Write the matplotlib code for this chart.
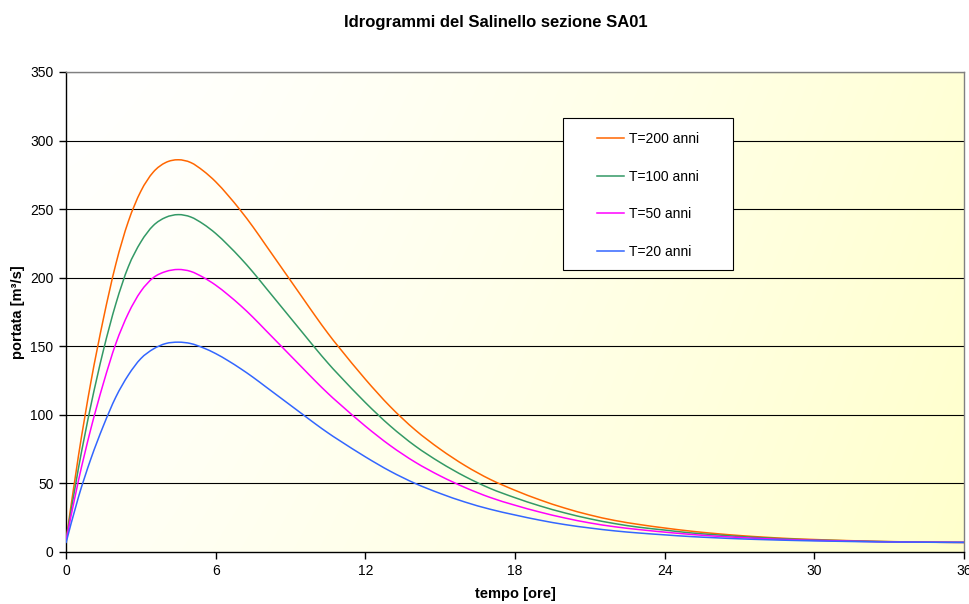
import numpy as np
import matplotlib
matplotlib.use('Agg')
import matplotlib.pyplot as plt
from matplotlib.path import Path
from matplotlib.patches import PathPatch, Rectangle
from matplotlib.lines import Line2D

plt.rcParams['font.family'] = ['Liberation Sans', 'DejaVu Sans']

# tempo [ore]: mezz'ora fino a 11 h, poi ogni ora
t = [0, 0.5, 1, 1.5, 2, 2.5, 3, 3.5, 4, 4.5, 5, 5.5, 6, 6.5, 7, 7.5, 8, 8.5, 9, 9.5, 10, 10.5, 11,
     12, 13, 14, 15, 16, 17, 18, 19, 20, 21, 22, 23, 24, 25, 26, 27, 28, 29, 30,
     31, 32, 33, 34, 35, 36]

q200 = [8, 70, 124, 170, 210, 241, 263, 277, 284, 286, 284, 278, 270, 260, 249, 237, 224, 211, 198, 185, 172, 159.5, 148,
        126, 106, 89, 75, 63, 53, 45, 38, 32, 27, 23, 20, 17.5, 15.3, 13.5, 12, 10.8, 9.8, 9.1,
        8.5, 8, 7.6, 7.3, 7.1, 7]
q100 = [8, 61, 107, 147, 181, 208, 226, 238, 244, 246, 244.3, 239.2, 232.3, 223.7, 214.3, 204, 192.9, 181.8, 170.7,
        159.6, 148.5, 137.8, 127.9,
        109, 91.9, 77.3, 65.3, 55, 46.4, 39.6, 33.6, 28.5, 24.2, 20.7, 18, 16, 14, 12.6, 11.3, 10.3, 9.4, 8.8,
        8.3, 7.9, 7.5, 7.3, 7.1, 7]
q50 = [8, 52, 90, 123, 152, 174, 190, 200, 204.5, 206, 204.6, 200.3, 194.6, 187.5, 179.7, 171.1, 161.8, 152.5, 143.2,
       133.9, 124.6, 115.7, 107.5,
       91.8, 77.6, 65.5, 55.5, 47, 39.8, 34.1, 29.1, 24.8, 21.2, 18.4, 16.3, 14.5, 12.9, 11.6, 10.6, 9.7, 9, 8.5,
       8.1, 7.7, 7.4, 7.2, 7.1, 7]
q20 = [6.5, 40, 68, 92, 113, 129, 141, 148, 152, 153, 152, 148.9, 144.7, 139.5, 133.7, 127.4, 120.6, 113.8, 107,
       100.2, 93.4, 86.9, 80.9,
       69.4, 58.9, 50, 42.7, 36.4, 31.2, 27, 23.2, 20, 17.5, 15.4, 13.8, 12.5, 11.3, 10.4, 9.6, 9, 8.5, 8.1,
       7.8, 7.5, 7.3, 7.2, 7.05, 7]

serie = [q200, q100, q50, q20]
etichette = ['T=200 anni', 'T=100 anni', 'T=50 anni', 'T=20 anni']
colori = ['#FF6600', '#339966', '#FF00FF', '#3366FF']


def linea_smussata(x, y):
    # linea "smussata" come in Excel: Bezier cubiche che passano per i punti
    p = np.column_stack([x, y]).astype(float)
    verts = [p[0]]
    codes = [Path.MOVETO]
    n = len(p)
    for i in range(n - 1):
        p0 = p[i - 1] if i > 0 else p[i]
        p3 = p[i + 2] if i + 2 < n else p[i + 1]
        c1 = p[i] + (p[i + 1] - p0) / 6.0
        c2 = p[i + 1] - (p3 - p[i]) / 6.0
        verts += [c1, c2, p[i + 1]]
        codes += [Path.CURVE4] * 3
    return Path(verts, codes)


fig = plt.figure(figsize=(9.7, 6.04), dpi=100)
ax = fig.add_axes([0.068, 0.0861, 0.9258, 0.7947])

# sfondo sfumato bianco -> giallo chiaro
gx, gy = np.meshgrid(np.linspace(0, 1, 300), np.linspace(1, 0, 100))
w = np.clip(0.8 * gx ** 1.3 + 0.2 * (1 - gy), 0, 1)
c0 = np.array([1.0, 1.0, 1.0])
c1 = np.array([1.0, 1.0, 0.80])
img = c0[None, None, :] * (1 - w[..., None]) + c1[None, None, :] * w[..., None]
ax.imshow(img, extent=[0, 36, 0, 350], aspect='auto', zorder=0, interpolation='bilinear')

for yv in range(50, 351, 50):
    ax.axhline(yv, color='black', lw=0.8, zorder=1)

for q, col in zip(serie, colori):
    ax.add_patch(PathPatch(linea_smussata(t, q), facecolor='none', edgecolor=col, lw=1.1, zorder=3))

ax.set_xlim(0, 36)
ax.set_ylim(0, 350)
ax.set_xticks(range(0, 37, 6))
ax.set_yticks(range(0, 351, 50))
ax.tick_params(direction='out', length=5, width=1, labelsize=10, pad=4)

for s in ['top', 'right']:
    ax.spines[s].set_color('#808080')
    ax.spines[s].set_linewidth(1)
for s in ['left', 'bottom']:
    ax.spines[s].set_color('black')
    ax.spines[s].set_linewidth(1)

ax.set_xlabel('tempo [ore]', fontsize=10.5, fontweight='bold', labelpad=6)
ax.set_ylabel('portata [m³/s]', fontsize=10.5, fontweight='bold', labelpad=4)
fig.text(0.511, 0.963, 'Idrogrammi del Salinello sezione SA01', ha='center', va='center',
         fontsize=12, fontweight='bold')

# legenda in riquadro
ax.add_patch(Rectangle((0.5535, 0.5875), 0.1893, 0.3165, transform=ax.transAxes,
                       facecolor='white', edgecolor='black', lw=0.8, zorder=5))
handles = [Line2D([], [], color=c, lw=1.1) for c in colori]
leg = ax.legend(handles, etichette, loc='upper left', bbox_to_anchor=(0.591, 0.875), fontsize=10,
                frameon=False, handlelength=2.0, handletextpad=0.35, labelspacing=1.7,
                borderpad=0, borderaxespad=0)
leg.set_zorder(6)

fig.savefig('out.png', dpi=100)
